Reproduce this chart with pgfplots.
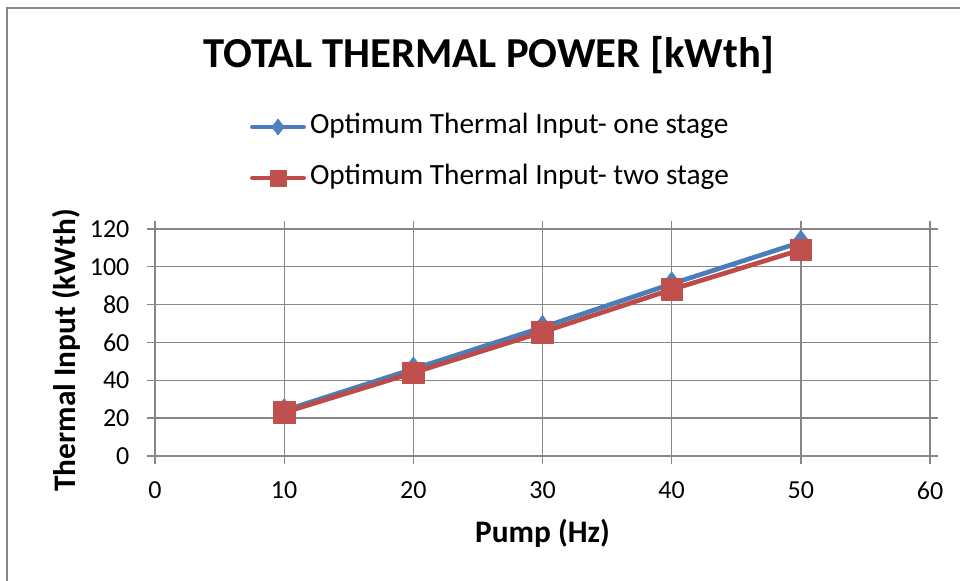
\documentclass[border=0pt]{standalone}
\usepackage{pgfplots}
\pgfplotsset{compat=1.18}
\usepackage{fontspec}
\setmainfont{Carlito}
\definecolor{gridgray}{HTML}{868686}
\definecolor{s1}{HTML}{4A7EBB}
\definecolor{s2}{HTML}{BE4B48}
\definecolor{m1}{HTML}{4F81BD}
\definecolor{m2}{HTML}{C0504D}
\begin{document}
\begin{tikzpicture}
\draw[gridgray, line width=1.5pt] (5.25pt,-15pt) -- (5.25pt,429.75pt) -- (742pt,429.75pt);
\begin{axis}[
  at={(116.25pt,93.75pt)}, anchor=south west,
  scale only axis, width=581.25pt, height=170.25pt,
  xmin=0, xmax=60, ymin=0, ymax=120,
  xtick={0,10,...,60}, ytick={0,20,...,120},
  grid=major, grid style={gridgray, line width=1pt},
  axis line style={gridgray, line width=1pt},
  tick style={gridgray, line width=1pt},
  tick align=outside, major tick length=6pt,
  /pgf/number format/assume math mode=true,
  ticklabel style={font=\fontsize{19.5}{22}\selectfont, inner sep=0pt},
  xticklabel style={anchor=north, yshift=-13pt},
  yticklabel style={anchor=east, xshift=-13pt},
  xlabel={\textbf{Pump (Hz)}},
  ylabel={\textbf{Thermal Input (kWth)}},
  label style={font=\fontsize{23.5}{26}\selectfont},
  xlabel style={at={(axis description cs:0.5,-0.383)}, anchor=base},
  ylabel style={at={(axis description cs:-0.1023,0.465)}, anchor=base, rotate=0},
  clip=false,
  legend style={at={(axis description cs:0.1226,1.508)}, anchor=north west,
    draw=none, fill=none, inner sep=0pt, outer sep=0pt,
    font=\fontsize{22}{25}\selectfont, row sep=18.25pt, column sep=3pt,
    nodes={inner sep=0pt, text height=15pt, text depth=5pt}},
  legend cell align=left,
  legend image code/.code={
    \draw[#1, mark=none] (0pt,0pt) -- (38.5pt,0pt);
    \path[#1, mark size=6pt] plot coordinates {(19.25pt,0pt)};
  },
]
\addplot[s1, line width=3.5pt, line cap=round, line join=round, mark=diamond*, mark size=9pt,
  mark options={fill=m1, draw=m1, line width=0.5pt}]
  coordinates {(10,24)(20,46)(30,68)(40,91)(50,113)};
\addlegendentry{Optimum Thermal Input- one stage}
\addplot[s2, line width=3.5pt, line cap=round, line join=round, mark=square*, mark size=8.1pt,
  mark options={fill=m2, draw=m2, line width=0.5pt}]
  coordinates {(10,23)(20,44)(30,65.5)(40,88)(50,109)};
\addlegendentry{Optimum Thermal Input- two stage}
\node[font=\fontsize{32}{36}\selectfont\bfseries, anchor=base] at (axis description cs:0.431,1.7123) {TOTAL THERMAL POWER [kWth]};
\end{axis}
\pgfresetboundingbox
\useasboundingbox (0pt,0pt) rectangle (720pt,435.75pt);
\end{tikzpicture}
\end{document}
